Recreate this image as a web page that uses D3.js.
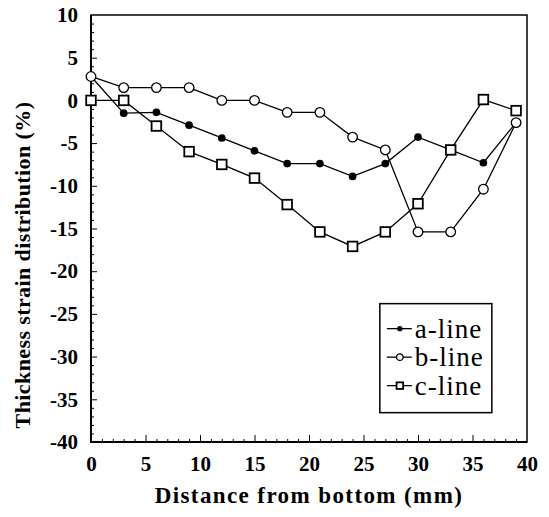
<!DOCTYPE html>
<html>
<head>
<meta charset="utf-8">
<script src="https://cdn.jsdelivr.net/npm/d3@7"></script>
<style>
body { margin: 0; background: #fff; }
</style>
</head>
<body>
<div id="chart"></div>
<script>
// distance from bottom (mm)
var distance = [0, 3, 6, 9, 12, 15, 18, 21, 24, 27, 30, 33, 36, 39];
var aLine = [2.8, -1.5, -1.4, -2.9, -4.4, -5.9, -7.4, -7.4, -8.9, -7.4, -4.3, -5.8, -7.3, -2.6];
var bLine = [2.8, 1.5, 1.5, 1.5, 0.0, 0.0, -1.4, -1.4, -4.3, -5.8, -15.4, -15.4, -10.4, -2.6];
var cLine = [0.0, 0.0, -3.0, -6.0, -7.5, -9.1, -12.2, -15.4, -17.1, -15.4, -12.1, -5.8, 0.1, -1.2];
var xTicks = [0, 5, 10, 15, 20, 25, 30, 35, 40];
var yTicks = [10, 5, 0, -5, -10, -15, -20, -25, -30, -35, -40];
var seriesNames = ["a-line", "b-line", "c-line"];

var serif = "'Liberation Serif', 'DejaVu Serif', serif";

var margin = {top: 15, right: 22, bottom: 75, left: 91},
    width = 549 - margin.left - margin.right,
    height = 517 - margin.top - margin.bottom;

var x = d3.scaleLinear().domain([0, 40]).range([0, width]);
var y = d3.scaleLinear().domain([-40, 10]).range([height, 0]);

var svg = d3.select("#chart").append("svg")
    .attr("width", 549)
    .attr("height", 517);

var g = svg.append("g")
    .attr("transform", "translate(" + margin.left + "," + margin.top + ")");

// minor ticks every 1, inside the frame
var minorX = d3.range(1, 40).filter(function(d) { return d % 5 != 0; });
var minorY = d3.range(-39, 10).filter(function(d) { return d % 5 != 0; });

g.append("g")
  .attr("transform", "translate(0," + height + ")")
  .call(d3.axisTop(x).tickValues(minorX).tickSize(3).tickFormat(""))
  .call(function(s) { s.select(".domain").remove(); });

g.append("g")
  .attr("transform", "translate(0," + height + ")")
  .call(d3.axisTop(x).tickValues(xTicks.slice(1, -1)).tickSize(7).tickFormat(""))
  .call(function(s) { s.select(".domain").remove(); });

g.append("g")
  .call(d3.axisRight(y).tickValues(minorY).tickSize(3).tickFormat(""))
  .call(function(s) { s.select(".domain").remove(); });

g.append("g")
  .call(d3.axisRight(y).tickValues(yTicks.slice(1, -1)).tickSize(6).tickFormat(""))
  .call(function(s) { s.select(".domain").remove(); });

// tick labels
g.append("g")
  .attr("transform", "translate(0," + height + ")")
  .call(d3.axisBottom(x).tickValues(xTicks).tickSize(0).tickPadding(10))
  .call(function(s) {
    s.select(".domain").remove();
    s.attr("font-family", serif);
    s.selectAll("text")
      .style("font-family", serif)
      .style("font-size", "21px")
      .style("font-weight", "bold")
      .attr("dy", "0.9em");
  });

g.append("g")
  .call(d3.axisLeft(y).tickValues(yTicks).tickSize(0).tickPadding(13))
  .call(function(s) {
    s.select(".domain").remove();
    s.attr("font-family", serif);
    s.selectAll("text")
      .style("font-family", serif)
      .style("font-size", "21px")
      .style("font-weight", "bold")
      .text(function(d) { return d; });
  });

// frame: left and bottom a bit heavier
g.append("rect")
  .attr("width", width)
  .attr("height", height)
  .attr("fill", "none")
  .attr("stroke", "#000")
  .attr("stroke-width", 1.5);

g.append("path")
  .attr("d", "M0,0V" + height + "H" + width)
  .attr("fill", "none")
  .attr("stroke", "#000")
  .attr("stroke-width", 2);

var line = d3.line()
  .x(function(d) { return x(d[0]); })
  .y(function(d) { return y(d[1]); });

function pairs(vals) {
  return distance.map(function(d, i) { return [d, vals[i]]; });
}

var series = [
  {name: "a-line", vals: aLine, shape: "dot"},
  {name: "c-line", vals: cLine, shape: "square"},
  {name: "b-line", vals: bLine, shape: "circle"}
];

function drawMarker(sel, shape, r) {
  if (shape == "dot") {
    sel.append("circle").attr("r", r * 0.8).attr("fill", "#000");
  } else if (shape == "circle") {
    sel.append("circle").attr("r", r).attr("fill", "#fff")
      .attr("stroke", "#000").attr("stroke-width", 1.3);
  } else {
    sel.append("rect").attr("x", -r).attr("y", -r)
      .attr("width", r * 2).attr("height", r * 2)
      .attr("fill", "#fff").attr("stroke", "#000").attr("stroke-width", 1.8);
  }
}

series.forEach(function(s) {
  g.append("path")
    .datum(pairs(s.vals))
    .attr("d", line)
    .attr("fill", "none")
    .attr("stroke", "#000")
    .attr("stroke-width", 1.3);
});

series.forEach(function(s) {
  g.selectAll(".m-" + s.shape)
    .data(pairs(s.vals))
    .enter().append("g")
    .attr("class", "m-" + s.shape)
    .attr("transform", function(d) { return "translate(" + x(d[0]) + "," + y(d[1]) + ")"; })
    .each(function() { drawMarker(d3.select(this), s.shape, 4.8); });
});

// legend
var legend = g.append("g")
  .attr("transform", "translate(" + (x(26.5)) + "," + (y(-23.8)) + ")");

legend.append("rect")
  .attr("width", 112)
  .attr("height", 109)
  .attr("fill", "#fff")
  .attr("stroke", "#000")
  .attr("stroke-width", 1.5);

var legendShapes = ["dot", "circle", "square"];
seriesNames.forEach(function(name, i) {
  var row = legend.append("g")
    .attr("transform", "translate(0," + (25 + i * 28.5) + ")");
  row.append("line")
    .attr("x1", 7).attr("x2", 32)
    .attr("stroke", "#000").attr("stroke-width", 1.3);
  drawMarker(row.append("g").attr("transform", "translate(20,0)"), legendShapes[i], 3.3);
  row.append("text")
    .attr("x", 35)
    .attr("dy", "0.33em")
    .style("font-family", serif)
    .style("font-size", "27px")
    .style("letter-spacing", "1px")
    .text(name);
});

// axis titles
svg.append("text")
  .attr("x", margin.left + width / 2)
  .attr("y", 503)
  .attr("text-anchor", "middle")
  .style("font-family", serif)
  .style("font-size", "23px")
  .style("font-weight", "bold")
  .style("letter-spacing", "1.4px")
  .text("Distance from bottom (mm)");

svg.append("text")
  .attr("transform", "translate(30," + (margin.top + 250) + ") rotate(-90)")
  .attr("text-anchor", "middle")
  .style("font-family", serif)
  .style("font-size", "22px")
  .style("font-weight", "bold")
  .style("letter-spacing", "0.4px")
  .text("Thickness strain distribution (%)");
</script>
</body>
</html>
